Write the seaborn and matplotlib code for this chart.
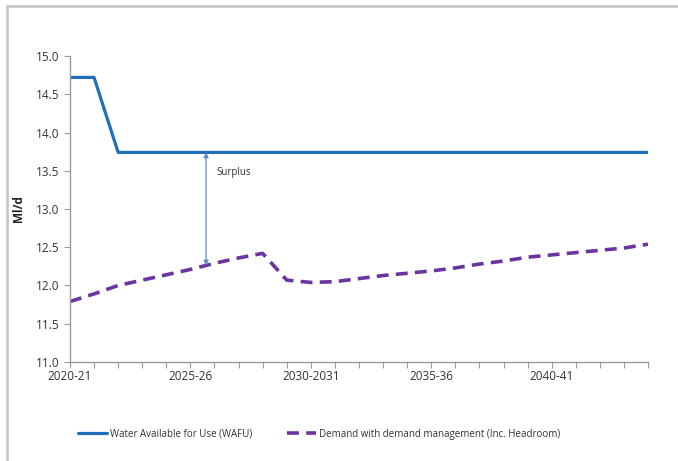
import matplotlib
matplotlib.use("Agg")
import matplotlib.pyplot as plt
from matplotlib.patches import Rectangle
import seaborn as sns
import pandas as pd
import numpy as np

years = ["2020-21", "2021-22", "2022-23", "2023-24", "2024-25", "2025-26", "2026-27",
         "2027-28", "2028-29", "2029-30", "2030-2031", "2031-32", "2032-33", "2033-34",
         "2034-35", "2035-36", "2036-37", "2037-38", "2038-39", "2039-40", "2040-41",
         "2041-42", "2042-43", "2043-44", "2044-45"]
wafu = [14.72, 14.72, 13.74, 13.74, 13.74, 13.74, 13.74, 13.74, 13.74, 13.74, 13.74,
        13.74, 13.74, 13.74, 13.74, 13.74, 13.74, 13.74, 13.74, 13.74, 13.74, 13.74,
        13.74, 13.74, 13.74]
demand = [11.79, 11.89, 12.00, 12.07, 12.14, 12.21, 12.29, 12.36, 12.42, 12.07, 12.04,
          12.05, 12.09, 12.13, 12.16, 12.19, 12.23, 12.28, 12.32, 12.37, 12.40, 12.43,
          12.46, 12.49, 12.54]
label_years = ["2020-21", "2025-26", "2030-2031", "2035-36", "2040-41"]

wafu_name = "Water Available for Use (WAFU)"
demand_name = "Demand with demand management (Inc. Headroom)"

sns.set_style("white")
plt.rcParams["font.family"] = ["Open Sans", "DejaVu Sans"]

df = pd.DataFrame({"pos": np.arange(len(years)), "year": years,
                   "WAFU": wafu, "Demand": demand})

fig = plt.figure(figsize=(6.78, 4.61), dpi=100)
ax = fig.add_axes([0.1032, 0.2148, 0.8526, 0.6637])

sns.lineplot(data=df, x="pos", y="WAFU", ax=ax, color="#1F6FBA", linewidth=2.3,
             label=wafu_name)
sns.lineplot(data=df, x="pos", y="Demand", ax=ax, color="#6A35A0", linewidth=2.6,
             label=demand_name, dashes=False)
ax.lines[1].set_dashes([3.3, 2.0])
ax.lines[1].set_dash_capstyle("butt")

ax.set_xlim(0, len(years) - 1)
ax.set_ylim(11.0, 15.0)
ax.set_yticks(np.arange(11.0, 15.01, 0.5))
ax.set_yticklabels([f"{v:.1f}" for v in np.arange(11.0, 15.01, 0.5)])
ax.set_xticks(np.arange(len(years)))
ax.set_xticklabels([y if y in label_years else "" for y in years])

ax.set_xlabel("")
ax.set_ylabel("Ml/d", fontsize=8.5, fontweight="bold", color="#222222", labelpad=8)

for side in ["top", "right"]:
    ax.spines[side].set_visible(False)
for side in ["left", "bottom"]:
    ax.spines[side].set_color("#9A9A9A")
    ax.spines[side].set_linewidth(1.0)
ax.tick_params(axis="both", which="both", direction="out", length=4, width=0.8,
               color="#9A9A9A", labelsize=8.5, labelcolor="#333333", bottom=True, left=True)
ax.tick_params(axis="x", pad=2)

# Surplus arrow between available water and demand
xa = 5.65
y_dem = np.interp(xa, df["pos"], df["Demand"])
ax.annotate("", xy=(xa, y_dem), xytext=(xa, wafu[5]),
            arrowprops=dict(arrowstyle="<|-|>", color="#5B8BC9", lw=0.9,
                            mutation_scale=7, shrinkA=0, shrinkB=0))
ax.text(xa + 0.42, 13.48, "Surplus", fontsize=7, color="#333333", va="center")

leg = ax.legend(loc="upper left", bbox_to_anchor=(-0.002, -0.19), ncol=2, frameon=False,
                fontsize=7, handlelength=3.0, handletextpad=0.3, columnspacing=3.6,
                labelcolor="#333333")

fig.patches.append(Rectangle((7 / 678, -0.1), 1.2, 1 - 6 / 461 + 0.1,
                             transform=fig.transFigure, fill=False,
                             edgecolor="#C8C8C8", linewidth=2.0))

fig.savefig("out.png", dpi=100)
